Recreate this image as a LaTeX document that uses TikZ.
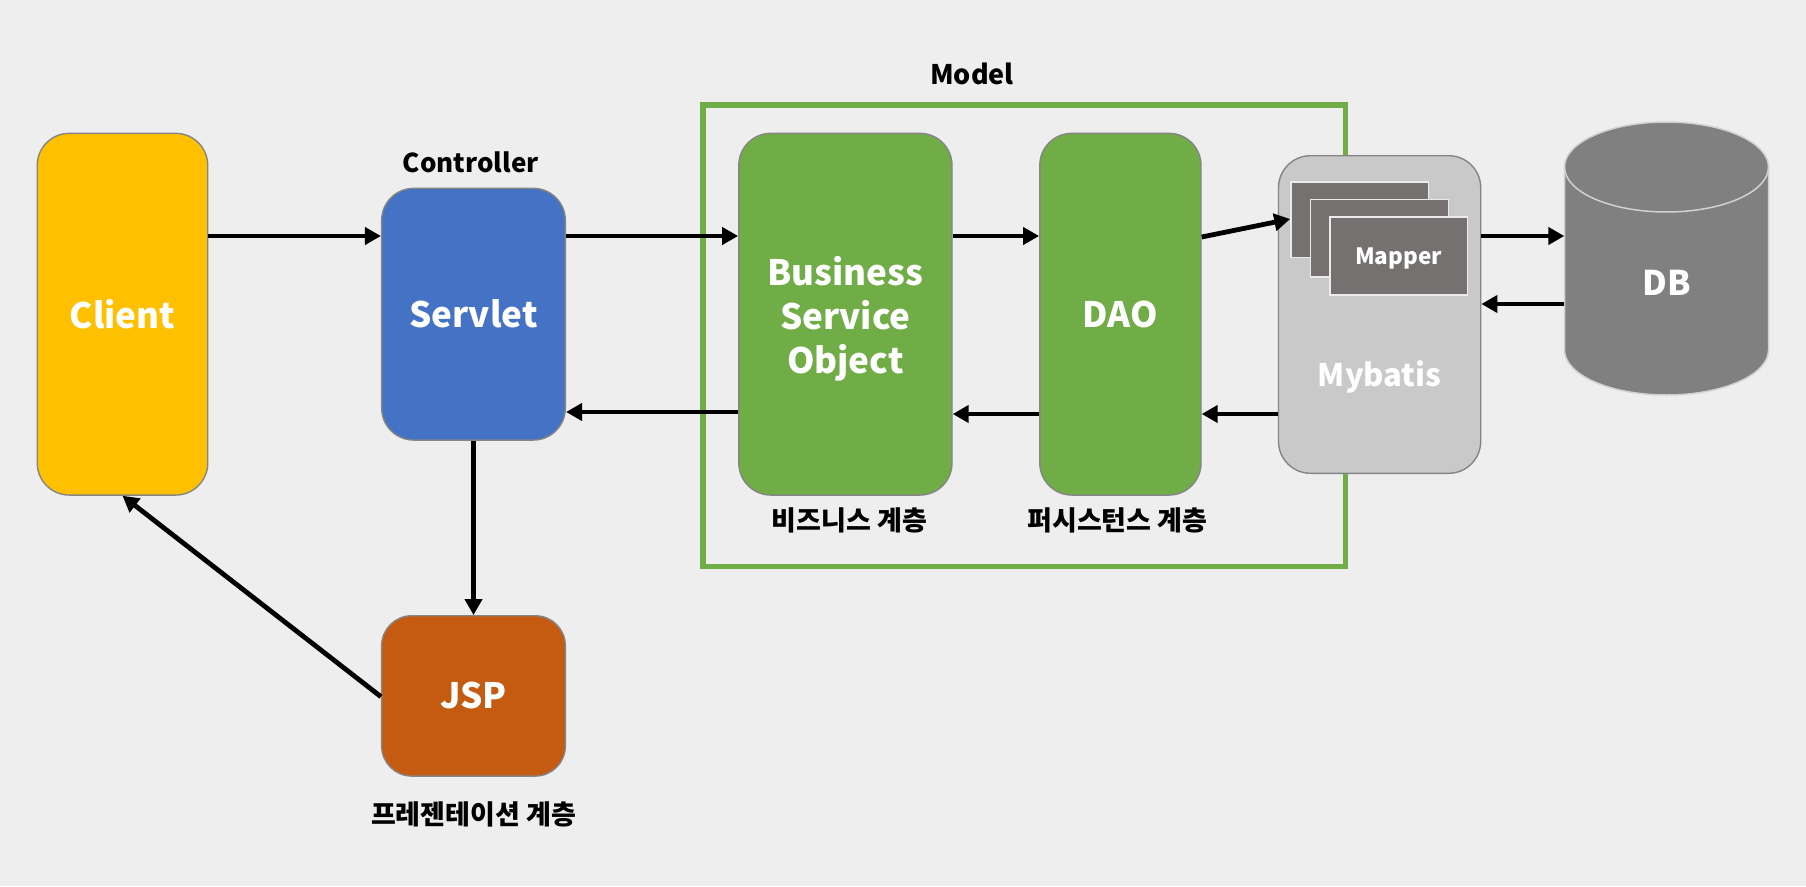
\documentclass[tikz,border=0pt]{standalone}
\usepackage{fontspec}
\setmainfont{Noto Sans CJK KR}
\usetikzlibrary{arrows.meta}
\definecolor{bg}{HTML}{EEEEEE}
\definecolor{cyel}{HTML}{FFC000}
\definecolor{cblue}{HTML}{4472C4}
\definecolor{cgreen}{HTML}{70AD47}
\definecolor{corange}{HTML}{C55A11}
\definecolor{cgray}{HTML}{C9C9C9}
\definecolor{cmapper}{HTML}{757171}
\definecolor{cdb}{HTML}{808080}
\definecolor{cedge}{HTML}{858585}
\tikzset{
  box/.style={draw=cedge, line width=1.4pt, rounded corners=32pt, inner sep=0pt,
    text=white, font=\fontsize{35}{44}\selectfont\bfseries, align=center},
  sheet/.style={draw=white!92!black, line width=1.6pt, fill=cmapper, inner sep=0pt},
  arr/.style={line width=4.8pt, -{Triangle[length=16pt,width=17pt]}},
  lbl/.style={font=\fontsize{27}{32}\selectfont\bfseries, text=black, inner sep=0pt, anchor=base}
}
\begin{document}
\begin{tikzpicture}[x=1pt,y=-1pt]
\useasboundingbox[fill=bg] (0,0) rectangle (1806,886);

% Model frame
\draw[cgreen, line width=5.3pt] (703,105) rectangle (1345.5,566.7);

% boxes
\node[box, fill=cyel, minimum width=170.5pt, minimum height=361.7pt] (client) at (122.5,314.2) {Client};
\node[box, fill=cblue, minimum width=183.7pt, minimum height=251.7pt] (servlet) at (473.5,314.2) {Servlet};
\node[box, fill=cgreen, minimum width=213.2pt, minimum height=361.7pt] (bso) at (845.4,314.2) {};
\node[box, draw=none, fill=none, anchor=center] (bsot) at (845.4,318.5) {Business\\Service\\Object};
\node[box, fill=cgreen, minimum width=161.2pt, minimum height=361.7pt] (dao) at (1120.4,314.2) {DAO};
\node[box, fill=cgray, minimum width=202.2pt, minimum height=317.6pt] (mybatis) at (1379.6,314.5) {};
\node[box, fill=corange, minimum width=183.7pt, minimum height=160.3pt, rounded corners=30pt] (jsp) at (473.5,695.9) {JSP};

% mapper sheets
\node[sheet, minimum width=137.3pt, minimum height=75.6pt] (map1) at (1359.7,219.5) {};
\node[sheet, minimum width=138pt, minimum height=77.4pt] (map2) at (1379.3,238) {};
\node[sheet, minimum width=137.6pt, minimum height=78pt, text=white, text depth=0pt,
  font=\fontsize{22.5}{27}\selectfont\bfseries] (map3) at (1398.5,256) {Mapper};
\node[lbl, text=white, font=\fontsize{31}{36}\selectfont\bfseries] (mybl) at (1379.6,386.7) {Mybatis};

% DB cylinder
\fill[cdb] (1564.5,167) -- (1564.5,350) arc[start angle=180, end angle=360, x radius=102, y radius=-45]
  -- (1768.5,167) arc[start angle=0, end angle=180, x radius=102, y radius=-45] -- cycle;
\draw[white!82!black, line width=1.5pt] (1564.5,167) -- (1564.5,350) arc[start angle=180, end angle=360, x radius=102, y radius=-45]
  -- (1768.5,167) arc[start angle=0, end angle=180, x radius=102, y radius=-45];
\draw[white!82!black, line width=1.5pt] (1564.5,167) arc[start angle=180, end angle=360, x radius=102, y radius=-45];
\node[inner sep=0pt, minimum width=204pt, minimum height=273pt] (db) at (1666.5,258.3) {};
\node[lbl, text=white, font=\fontsize{34}{40}\selectfont\bfseries] (dbl) at (1666.7,295) {DB};

% labels
\node[lbl, font=\fontsize{26}{31}\selectfont\bfseries] (ctrl) at (470.7,172.7) {Controller};
\node[lbl] (model) at (972,84) {Model};
\node[lbl] (biz) at (849.6,530.5) {비즈니스 계층};
\node[lbl] (pers) at (1117.4,530.5) {퍼시스턴스 계층};
\node[lbl] (pres) at (473.6,824.5) {프레젠테이션 계층};

% connectors
\draw[arr] (client.east |- 0,236) -- (servlet.west |- 0,236);
\draw[arr] (servlet.east |- 0,236) -- (bso.west |- 0,236);
\draw[arr] (bso.west |- 0,412) -- (servlet.east |- 0,412);
\draw[arr] (bso.east |- 0,236) -- (dao.west |- 0,236);
\draw[arr] (dao.west |- 0,414) -- (bso.east |- 0,414);
\draw[arr] (dao.east |- 0,237) -- (map1.west |- 0,219);
\draw[arr] (mybatis.west |- 0,414) -- (dao.east |- 0,414);
\draw[arr] (mybatis.east |- 0,236) -- (db.west |- 0,236);
\draw[arr] (db.west |- 0,304) -- (mybatis.east |- 0,304);
\draw[arr] (servlet.south) -- (jsp.north);
\draw[arr] (jsp.west |- 0,696.7) -- (client.south);
\end{tikzpicture}
\end{document}
